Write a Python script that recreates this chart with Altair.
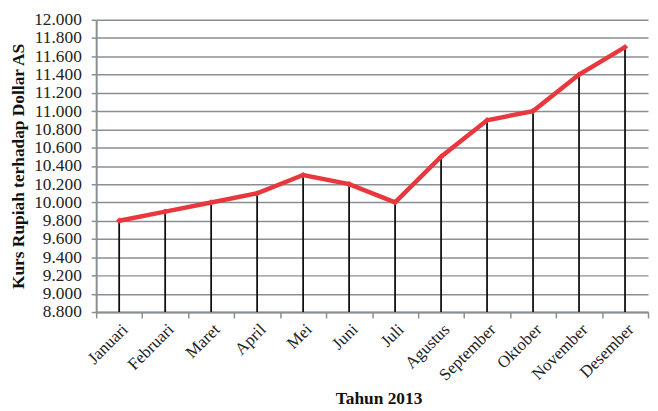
import altair as alt
import pandas as pd

months = ["Januari", "Februari", "Maret", "April", "Mei", "Juni", "Juli",
          "Agustus", "September", "Oktober", "November", "Desember"]
kurs = [9800, 9900, 10000, 10100, 10300, 10200, 10000, 10500, 10900, 11000, 11400, 11700]
y_ticks = [8800, 9000, 9200, 9400, 9600, 9800, 10000, 10200, 10400, 10600,
           10800, 11000, 11200, 11400, 11600, 11800, 12000]

df = pd.DataFrame({"bulan": months, "kurs": kurs, "base": [8800] * len(months)})

FONT = "Liberation Serif"
GRAY = "#8a8f93"

x_axis = alt.Axis(title="Tahun 2013", labelAngle=-45, labelAlign="right",
                  labelBaseline="top", tickBand="extent", labelPadding=3,
                  tickSize=6, titlePadding=7, labelOverlap=False, titleX=285,
                  labelFont=FONT, titleFont=FONT, labelFontSize=17,
                  titleFontSize=17.5, labelColor="#222222", titleColor="#111111",
                  titleFontWeight="bold", domainColor=GRAY, tickColor=GRAY,
                  domainWidth=2, tickWidth=1.5, grid=False)
y_axis = alt.Axis(title="Kurs Rupiah terhadap Dollar AS",
                  values=y_ticks, labelOverlap=False,
                  labelExpr="replace(format(datum.value, ','), ',', '.')",
                  tickSize=5, titlePadding=6, labelPadding=10,
                  labelFont=FONT, titleFont=FONT, labelFontSize=17.5,
                  titleFontSize=17.5, labelColor="#222222", titleColor="#111111",
                  titleFontWeight="bold", domainColor=GRAY, tickColor=GRAY,
                  domainWidth=2, tickWidth=1.5, grid=True, gridColor=GRAY,
                  gridWidth=1.5, gridOpacity=1)
x_scale = alt.Scale(paddingInner=0, paddingOuter=0)
y_scale = alt.Scale(domain=[8800, 12000], nice=False, zero=False)

base = alt.Chart(df)

rules = base.mark_rule(color="#111111", strokeWidth=1.8).encode(
    x=alt.X("bulan:N", sort=months, scale=x_scale, axis=x_axis),
    y=alt.Y("base:Q", scale=y_scale, axis=y_axis),
    y2="kurs:Q",
)

line = base.mark_line(color="#e8383d", strokeWidth=4.5).encode(
    x=alt.X("bulan:N", sort=months, scale=x_scale, axis=x_axis),
    y=alt.Y("kurs:Q", scale=y_scale, axis=y_axis))

points = base.mark_point(shape="diamond", filled=True, color="#e8383d", size=40, opacity=1).encode(
    x=alt.X("bulan:N", sort=months, scale=x_scale, axis=x_axis),
    y=alt.Y("kurs:Q", scale=y_scale, axis=y_axis))

chart = alt.layer(rules, line, points).properties(
    width=557, height=295,
    autosize=alt.AutoSizeParams(type="none"),
    padding={"left": 89, "top": 10, "right": 2, "bottom": 98},
).configure_view(stroke=None)

chart.save("out.html", embed_options={"renderer": "svg", "actions": False})
